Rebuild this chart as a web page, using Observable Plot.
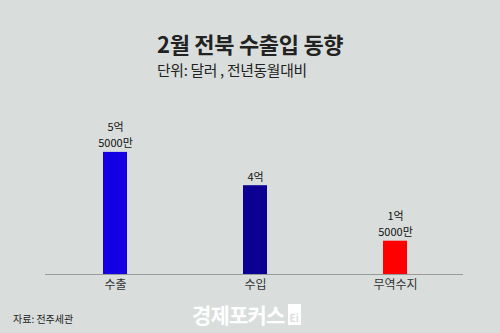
<!DOCTYPE html>
<html>
<head>
<meta charset="utf-8">
<script src="https://cdn.jsdelivr.net/npm/d3@7"></script>
<script src="https://cdn.jsdelivr.net/npm/@observablehq/plot@0.6"></script>
<style>
  html, body { margin: 0; padding: 0; }
  body { width: 500px; height: 333px; background: #d9dedc; overflow: hidden;
         font-family: "Noto Sans CJK KR", "Noto Sans", sans-serif; }
  #head { height: 100px; padding-left: 157px; box-sizing: border-box; }
  #title { padding-top: 30px; font-size: 22px; line-height: 26px; font-weight: 700; color: #222; letter-spacing: -0.3px; }
  #subtitle { margin-top: 5px; font-size: 14.8px; line-height: 18px; color: #222; letter-spacing: -0.3px; }
  #chart { height: 200px; }
  #foot { position: relative; height: 33px; }
  #source { position: absolute; left: 13px; top: 12px; font-size: 10px; line-height: 14px; color: #222; }
  #mark { position: absolute; left: 192px; top: 1px; font-size: 21px; line-height: 26px; font-weight: 700; color: #fff; letter-spacing: -0.8px; white-space: nowrap; }
  #mark span { display: inline-block; background: #fff; color: #d9dedc; font-size: 10px; line-height: 12px; padding: 8px 2px 1px 2px; vertical-align: 1px; margin-left: 3px; letter-spacing: 0; }
</style>
</head>
<body>
<div id="head">
  <div id="title">2월 전북 수출입 동향</div>
  <div id="subtitle">단위: 달러 , 전년동월대비</div>
</div>
<div id="chart"></div>
<div id="foot">
  <div id="source">자료: 전주세관</div>
  <div id="mark">경제포커스<span>Ei</span></div>
</div>
<script>
const categories = ["수출", "수입", "무역수지"];
const values = [5.5, 4, 1.5]; // 억 달러
const valueLabels = ["5억\n5000만", "4억", "1억\n5000만"];

const data = categories.map((c, i) => ({category: c, value: values[i], label: valueLabels[i]}));

const chart = Plot.plot({
  width: 500,
  height: 200,
  marginLeft: 45,
  marginRight: 37,
  marginBottom: 26,
  marginTop: 0,
  style: {background: "transparent", fontFamily: "'Noto Sans CJK KR', sans-serif"},
  x: {domain: categories, range: [44.5, 464.5], paddingInner: 0.829, paddingOuter: 0.414, label: null},
  y: {domain: [0, 6], range: [174, 174 - 22.2 * 6], axis: null},
  color: {domain: categories, range: ["#1400e2", "#0b0092", "#ff0000"]},
  marks: [
    Plot.barY(data, {x: "category", y: "value", fill: "category"}),
    Plot.ruleY([0], {stroke: "#9a9a9a", strokeWidth: 1}),
    Plot.axisX({tickSize: 0, tickPadding: 6, fontSize: 12, fill: "#333"}),
    Plot.text(data, {x: "category", y: "value", text: "label", lineAnchor: "bottom", dy: -5, fontSize: 11, lineHeight: 1.45, fill: "#111"})
  ]
});
document.getElementById("chart").appendChild(chart);
</script>
</body>
</html>
